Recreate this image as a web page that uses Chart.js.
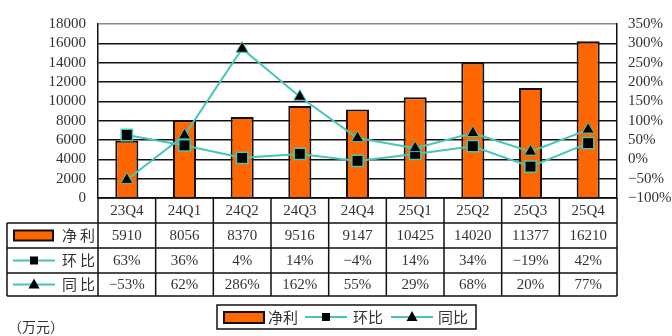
<!DOCTYPE html>
<html>
<head>
<meta charset="utf-8">
<script src="https://cdn.jsdelivr.net/npm/chart.js@4/dist/chart.umd.min.js"></script>
<style>
  html, body { margin: 0; padding: 0; background: #fff; }
  canvas { display: block; }
</style>
</head>
<body>
<canvas id="c" width="672" height="336"></canvas>
<script>
const quarters = ["23Q4", "24Q1", "24Q2", "24Q3", "24Q4", "25Q1", "25Q2", "25Q3", "25Q4"];
const profit = [5910, 8056, 8370, 9516, 9147, 10425, 14020, 11377, 16210];
const qoq = [63, 36, 4, 14, -4, 14, 34, -19, 42];
const yoy = [-53, 62, 286, 162, 55, 29, 68, 20, 77];
const seriesNames = ["净利", "环比", "同比"];
const unitLabel = "（万元）";

const ORANGE = "#FF6600";
const TEAL = "#45C6B8";
const NUM_FONT = "15px 'Liberation Serif', serif";
const CJK_FONT = "15px 'Noto Sans CJK SC', sans-serif";

function fmtPct(v) {
  return (v < 0 ? "\u2212" + Math.abs(v) : v) + "%";
}

// little helpers for the legend swatches
function barSwatch(ctx, x, y, w, h) {
  ctx.fillStyle = ORANGE;
  ctx.fillRect(x, y, w, h);
  ctx.lineWidth = 2;
  ctx.strokeStyle = "#111";
  ctx.strokeRect(x, y, w, h);
}
function lineSwatch(ctx, x1, x2, y, style) {
  ctx.strokeStyle = TEAL;
  ctx.lineWidth = 2;
  ctx.beginPath();
  ctx.moveTo(x1, y);
  ctx.lineTo(x2, y);
  ctx.stroke();
  const cx = (x1 + x2) / 2;
  ctx.fillStyle = "#000";
  if (style === "rect") {
    ctx.fillRect(cx - 4, y - 4, 8, 8);
  } else {
    ctx.beginPath();
    ctx.moveTo(cx, y - 6);
    ctx.lineTo(cx + 5.5, y + 4);
    ctx.lineTo(cx - 5.5, y + 4);
    ctx.closePath();
    ctx.fill();
  }
}

const tablePlugin = {
  id: "dataTable",
  afterDraw(chart) {
    const ctx = chart.ctx;
    const area = chart.chartArea;
    const n = quarters.length;
    const colW = (area.right - area.left) / n;
    const rows = [area.bottom, area.bottom + 25, area.bottom + 50, area.bottom + 75, area.bottom + 98];
    const tableLeft = 7;

    ctx.save();
    ctx.strokeStyle = "#111";
    ctx.lineWidth = 1.5;
    ctx.beginPath();
    // horizontal lines
    ctx.moveTo(area.left, rows[0]); ctx.lineTo(area.right, rows[0]);
    for (let r = 1; r < rows.length; r++) {
      ctx.moveTo(tableLeft, rows[r]); ctx.lineTo(area.right, rows[r]);
    }
    // vertical lines
    ctx.moveTo(tableLeft, rows[1]); ctx.lineTo(tableLeft, rows[4]);
    for (let i = 0; i <= n; i++) {
      const x = area.left + i * colW;
      ctx.moveTo(x, rows[0]); ctx.lineTo(x, rows[4]);
    }
    ctx.stroke();

    // cells
    ctx.fillStyle = "#333";
    ctx.font = NUM_FONT;
    ctx.textAlign = "center";
    ctx.textBaseline = "middle";
    const rowVals = [quarters, profit.map(String), qoq.map(fmtPct), yoy.map(fmtPct)];
    for (let r = 0; r < 4; r++) {
      const cy = (rows[r] + rows[r + 1]) / 2 + 1;
      for (let i = 0; i < n; i++) {
        const cx = chart.scales.x.getPixelForValue(i);
        ctx.fillText(rowVals[r][i], cx, cy);
      }
    }

    // row labels with swatches
    const labelStyles = ["bar", "rect", "triangle"];
    for (let r = 1; r < 4; r++) {
      const cy = (rows[r] + rows[r + 1]) / 2;
      if (labelStyles[r - 1] === "bar") barSwatch(ctx, 14, cy - 5, 39, 10);
      else lineSwatch(ctx, 13, 55, cy, labelStyles[r - 1]);
      ctx.fillStyle = "#333";
      ctx.font = CJK_FONT;
      ctx.textAlign = "left";
      ctx.letterSpacing = "3px";
      ctx.fillText(seriesNames[r - 1], 62, cy);
      ctx.letterSpacing = "0px";
    }

    // bottom legend box
    ctx.strokeStyle = "#111";
    ctx.lineWidth = 1.5;
    ctx.strokeRect(217, 305, 259, 24);
    const ly = 317;
    barSwatch(ctx, 224, ly - 5, 40, 11);
    ctx.fillStyle = "#333";
    ctx.font = CJK_FONT;
    ctx.textAlign = "left";
    ctx.fillText(seriesNames[0], 268, ly);
    lineSwatch(ctx, 305, 347, ly, "rect");
    ctx.fillStyle = "#333";
    ctx.fillText(seriesNames[1], 353, ly);
    lineSwatch(ctx, 391, 433, ly, "triangle");
    ctx.fillStyle = "#333";
    ctx.fillText(seriesNames[2], 438, ly);

    // unit
    ctx.font = "14px 'Noto Sans CJK SC', sans-serif";
    ctx.fillText(unitLabel, 8, 327);
    ctx.restore();
  }
};

new Chart(document.getElementById("c"), {
  data: {
    labels: quarters,
    datasets: [
      {
        type: "line",
        label: seriesNames[2],
        data: yoy,
        yAxisID: "y1",
        borderColor: TEAL,
        borderWidth: 2,
        pointStyle: "triangle",
        pointRadius: 7,
        pointBackgroundColor: "#000",
        pointBorderColor: TEAL,
        pointBorderWidth: 1,
        order: 1
      },
      {
        type: "line",
        label: seriesNames[1],
        data: qoq,
        yAxisID: "y1",
        borderColor: TEAL,
        borderWidth: 2,
        pointStyle: "rect",
        pointRadius: 8,
        pointBackgroundColor: "#000",
        pointBorderColor: TEAL,
        pointBorderWidth: 1.5,
        order: 2
      },
      {
        type: "bar",
        label: seriesNames[0],
        data: profit,
        yAxisID: "y",
        backgroundColor: ORANGE,
        borderColor: "#111",
        borderWidth: 2,
        barPercentage: 0.4,
        categoryPercentage: 1,
        order: 3
      }
    ]
  },
  options: {
    responsive: false,
    animation: false,
    layout: { padding: { top: 24, left: 0, right: 0, bottom: 138 } },
    plugins: { legend: { display: false }, tooltip: { enabled: false } },
    scales: {
      x: { display: false, offset: true },
      y: {
        position: "left",
        min: 0,
        max: 18000,
        ticks: { stepSize: 2000, autoSkip: false, color: "#333", font: { family: "'Liberation Serif', serif", size: 15 }, padding: 12,
                 callback: v => String(v) },
        grid: { color: ctx => ctx.index === 9 ? "#888" : "#111", lineWidth: 1.5, drawTicks: false },
        border: { color: "#111", width: 1.5 },
        afterFit(s) { s.width = 98; }
      },
      y1: {
        position: "right",
        min: -100,
        max: 350,
        ticks: { stepSize: 50, autoSkip: false, color: "#333", font: { family: "'Liberation Serif', serif", size: 15 }, padding: 11,
                 callback: v => fmtPct(v) },
        grid: { drawOnChartArea: false, drawTicks: false },
        border: { color: "#111", width: 1.5 },
        afterFit(s) { s.width = 55; }
      }
    }
  },
  plugins: [tablePlugin]
});
</script>
</body>
</html>
